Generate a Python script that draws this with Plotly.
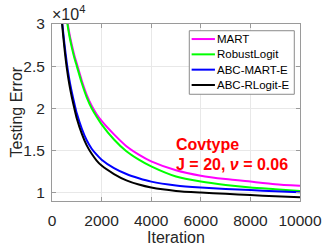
import plotly.graph_objects as go

iterations = [300, 400, 500, 600, 700, 800, 900, 1000, 1200, 1400, 1600, 1800, 2000,
              2500, 3000, 3500, 4000, 5000, 6000, 7000, 8000, 9000, 10000]
mart = [40000, 37500, 34200, 30800, 28900, 27500, 26300, 25300, 23300, 21600, 20300, 19300, 18500,
        16900, 15500, 14500, 13700, 12650, 12000, 11600, 11300, 11000, 10800]
robust_logit = [40000, 37000, 33800, 30500, 28600, 27200, 26000, 25000, 23000, 21300, 20000, 19000, 18100,
                16300, 14900, 13900, 13100, 11900, 11300, 10900, 10600, 10400, 10200]
abc_mart_e = [35500, 30600, 27700, 25300, 23400, 21900, 20600, 19400, 17600, 16200, 15200, 14500, 13900,
              12900, 12200, 11700, 11300, 10850, 10600, 10420, 10300, 10150, 10030]
abc_rlogit_e = [35000, 30300, 27200, 24700, 22800, 21300, 20000, 18800, 17000, 15600, 14600, 13800, 13200,
                12200, 11450, 10950, 10600, 10200, 10000, 9850, 9700, 9570, 9450]

series_names = ["MART", "RobustLogit", "ABC-MART-E", "ABC-RLogit-E"]
series_values = [mart, robust_logit, abc_mart_e, abc_rlogit_e]
series_colors = ["#ff00ff", "#00ff00", "#0000ff", "#000000"]

x_ticks = [0, 2000, 4000, 6000, 8000, 10000]
y_ticks = [10000, 15000, 20000, 25000, 30000]
y_tick_text = ["1", "1.5", "2", "2.5", "3"]

FONT = "Liberation Sans, Arial, sans-serif"
TXT = "#262626"

fig = go.Figure()
for name, vals, color in zip(series_names, series_values, series_colors):
    fig.add_trace(go.Scatter(x=iterations, y=vals, name=name, mode="lines",
                             line=dict(color=color, width=2, shape="spline", smoothing=0.6),
                             showlegend=False))

axis_common = dict(showline=True, linecolor="#9a9a9a", linewidth=1, mirror="ticks",
                   ticks="inside", ticklen=4, tickcolor="#9a9a9a",
                   showgrid=True, gridcolor="#e8e8e8", gridwidth=1, zeroline=False,
                   automargin=False,
                   tickfont=dict(family=FONT, size=15.5, color=TXT))

fig.update_layout(
    width=332, height=249,
    margin=dict(l=52, r=32, t=24, b=48),
    paper_bgcolor="white", plot_bgcolor="white",
    font=dict(family=FONT, color=TXT),
    xaxis=dict(range=[0, 10000], tickvals=x_ticks, ticktext=[str(v) for v in x_ticks],
               ticklabelstandoff=5, **axis_common),
    yaxis=dict(range=[9000, 30000], tickvals=y_ticks, ticktext=y_tick_text,
               ticklabelstandoff=3, **axis_common),
    showlegend=False,
)

# axis titles
fig.add_annotation(xref="paper", yref="paper", x=0.5, y=0, xanchor="center", yanchor="middle",
                   yshift=-36, text="Iteration", showarrow=False,
                   font=dict(family=FONT, size=16, color=TXT))
fig.add_annotation(xref="paper", yref="paper", x=0, y=0.5, xanchor="center", yanchor="middle",
                   xshift=-36, textangle=-90, text="Testing Error", showarrow=False,
                   font=dict(family=FONT, size=16, color=TXT))
# exponent label
fig.add_annotation(xref="paper", yref="paper", x=0, y=1, xanchor="left", yanchor="bottom",
                   xshift=-2, yshift=-1, text="×10<sup>4</sup>", showarrow=False,
                   font=dict(family=FONT, size=16, color=TXT))

# manual legend (MATLAB-style compact box)
box_x0, box_x1, box_y0, box_y1 = 0.5536, 0.977, 0.603, 0.962
fig.add_shape(type="rect", xref="paper", yref="paper", x0=box_x0, x1=box_x1, y0=box_y0, y1=box_y1,
              line=dict(color="#8a8a8a", width=1), fillcolor="white", layer="above")
row_top, row_step = 0.915, 0.0865
for i, (name, color) in enumerate(zip(series_names, series_colors)):
    ry = row_top - i * row_step
    fig.add_shape(type="line", xref="paper", yref="paper", x0=0.563, x1=0.657, y0=ry, y1=ry,
                  line=dict(color=color, width=2), layer="above")
    fig.add_annotation(xref="paper", yref="paper", x=0.664, y=ry, xanchor="left", yanchor="middle",
                       xshift=-2, text=name, showarrow=False,
                       font=dict(family=FONT, size=11.5, color="#000000"))

# dataset annotation
fig.add_annotation(xref="paper", yref="paper", x=(176 - 52) / 248, y=(201 - 144) / 177,
                   xanchor="left", yanchor="middle", xshift=-2,
                   text="<b>Covtype</b>", showarrow=False,
                   font=dict(family=FONT, size=16, color="#ff0000"))
fig.add_annotation(xref="paper", yref="paper", x=(176 - 52) / 248, y=(201 - 164) / 177,
                   xanchor="left", yanchor="middle", xshift=-2,
                   text="<b>J = 20, <i>ν</i> = 0.06</b>", showarrow=False,
                   font=dict(family=FONT, size=16, color="#ff0000"))

fig.write_html("out.html", config={"displayModeBar": False},
               post_script="document.body.style.margin='0';document.body.style.overflow='hidden';")
